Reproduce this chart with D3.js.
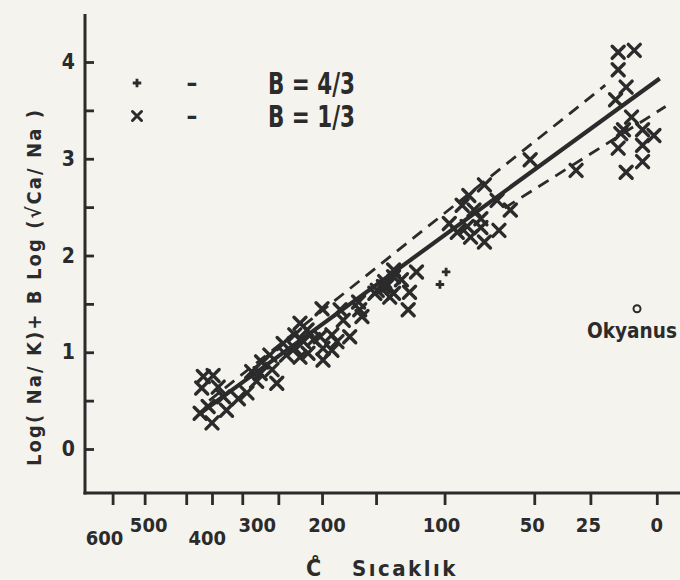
<!DOCTYPE html>
<html>
<head>
<meta charset="utf-8">
<script src="https://cdn.jsdelivr.net/npm/d3@7"></script>
<style>
  body { margin: 0; background: #f4f3ee; }
  svg { display: block; }
  text { font-family: "DejaVu Sans Condensed", "DejaVu Sans", sans-serif; font-weight: bold; fill: #2b2b2b; }
</style>
</head>
<body>
<div id="viz"></div>
<script>
// temperature ticks (°C) on a 1/T axis
var xTicks = [600, 500, 400, 350, 300, 250, 200, 150, 100, 50, 25, 0];
var xLabels = [600, 500, 400, 300, 200, 100, 50, 25, 0];
var yTicks = [0, 0.5, 1, 1.5, 2, 2.5, 3, 3.5, 4];
var yLabels = [0, 1, 2, 3, 4];

// points: [temperature °C, log value]
var crossPoints = [
  [366,0.75],[348,0.76],[369,0.63],[339,0.64],[330,0.54],[372,0.37],[350,0.27],[357,0.44],
  [325,0.40],[306,0.52],[293,0.58],[286,0.80],[274,0.78],[272,0.90],[261,0.97],[279,0.70],
  [252,0.68],[258,0.82],[244,1.09],[240,0.97],[230,1.04],[224,1.30],[230,1.18],[216,1.23],
  [220,1.11],[224,0.95],[215,0.99],[209,1.13],[202,1.16],[199,0.92],[199,1.04],[190,1.18],
  [190,1.02],[185,1.11],[200,1.45],[182,1.44],[179,1.33],[173,1.16],[164,1.44],[162,1.37],
  [165,1.52],[149,1.64],[141,1.69],[139,1.57],[136,1.78],
  [52,2.99],[76,2.73],[85,2.62],[89,2.52],[82,2.47],[97,2.33],[92,2.24],[86,2.30],
  [84,2.19],[78,2.38],[78,2.29],[69,2.57],[68,2.26],[76,2.14],[62,2.47],[31,2.88],
  [136,1.85],[143,1.73],[130,1.75],[119,1.83],[151,1.61],[136,1.61],[124,1.62],[125,1.44],[144,1.68],
  [14,4.10],[8,4.12],[14,3.92],[11,3.74],[15,3.61],[9,3.43],[12,3.30],[5,3.30],
  [1,3.24],[13,3.26],[5,3.14],[14,3.11],[5,2.97],[11,2.86]
];
var plusPoints = [[99,1.83],[103,1.70]];
var oceanPoint = [7, 1.45];

// fitted line and the two dashed bounds: [temperature °C, log value]
var solidLine = [[372,0.37],[-1,3.83]];
var upperDashed = [[355,0.50],[19,3.76]];
var lowerDashed = [[65,2.49],[-3,3.54]];

var legendRows = [
  {mark: "plus", text: "B = 4/3"},
  {mark: "cross", text: "B = 1/3"}
];

var width = 680, height = 580;
var ink = "#2b2b2b";

var svg = d3.select("#viz")
  .append("svg")
    .attr("width", width)
    .attr("height", height);

// x is linear in 1000/T(K)
var invK = function(t) { return 1000 / (t + 273.15); };
var x = d3.scaleLinear().domain([invK(600), invK(0)]).range([112.6, 656.8]);
var y = d3.scaleLinear().domain([0, 4]).range([449, 62]);
function px(t) { return x(invK(t)); }

// axis lines
svg.append("line")
  .attr("x1", 85).attr("x2", 85).attr("y1", 14).attr("y2", 494.5)
  .style("stroke", ink).style("stroke-width", 3);
svg.append("line")
  .attr("x1", 83.5).attr("x2", 680).attr("y1", 493).attr("y2", 493)
  .style("stroke", ink).style("stroke-width", 3);

// x ticks
var xAxis = d3.axisBottom(x)
  .tickValues(xTicks.map(invK))
  .tickSize(12)
  .tickSizeOuter(0)
  .tickFormat("");
var gx = svg.append("g").attr("transform", "translate(0,493)").call(xAxis);
gx.select(".domain").remove();
gx.selectAll(".tick line").style("stroke", ink).style("stroke-width", 2.8);

// x tick labels, hand placed like the original lettering
var labelShift = {600: [-8, 13], 500: [4, 0], 400: [21, 13], 300: [15, 0], 200: [5, 0], 100: [-3, 0], 50: [-2, 0], 25: [-2, 0], 0: [0, 0]};
svg.selectAll(".xlab")
  .data(xLabels)
  .enter()
  .append("text")
    .attr("class", "xlab")
    .attr("x", function(d) { return px(d) + labelShift[d][0]; })
    .attr("y", function(d) { return 532 + labelShift[d][1]; })
    .attr("text-anchor", "middle")
    .style("font-size", "20px")
    .text(function(d) { return d; });

// y axis ticks pointing inward
var yAxis = d3.axisLeft(y)
  .tickValues(yTicks)
  .tickSize(-9)
  .tickPadding(10)
  .tickFormat(function(d) { return yLabels.indexOf(d) >= 0 ? d : ""; });
var gy = svg.append("g").attr("transform", "translate(85,0)").call(yAxis);
gy.select(".domain").remove();
gy.selectAll(".tick line").style("stroke", ink).style("stroke-width", 2.8);
gy.selectAll(".tick text")
  .attr("fill", ink)
  .style("font-size", "21px")
  .style("font-weight", "bold")
  .style("font-family", "'DejaVu Sans Condensed', 'DejaVu Sans', sans-serif");

// axis titles
svg.append("text")
  .attr("transform", "translate(41,288) rotate(-90)")
  .attr("text-anchor", "middle")
  .attr("textLength", 356)
  .attr("lengthAdjust", "spacing")
  .style("font-size", "20px")
  .text("Log( Na/ K)+ B Log (√Ca/ Na )");

svg.append("text")
  .attr("x", 306).attr("y", 576)
  .style("font-size", "23px")
  .text("C\u030A");
svg.append("text")
  .attr("x", 352).attr("y", 576)
  .style("font-size", "22px")
  .style("letter-spacing", "2.5px")
  .text("Sıcaklık");

// lines
var line = d3.line()
  .x(function(d) { return px(d[0]); })
  .y(function(d) { return y(d[1]); });

svg.append("path").datum(upperDashed).attr("d", line)
  .style("fill", "none").style("stroke", ink).style("stroke-width", 2.8).style("stroke-dasharray", "12,8");
svg.append("path").datum(lowerDashed).attr("d", line)
  .style("fill", "none").style("stroke", ink).style("stroke-width", 2.8).style("stroke-dasharray", "12,8");
svg.append("path").datum(solidLine).attr("d", line)
  .style("fill", "none").style("stroke", ink).style("stroke-width", 4.2);

// markers
var crossPath = "M-6,-6L6,6M-6,6L6,-6";
var smallCross = "M-4.5,-4.5L4.5,4.5M-4.5,4.5L4.5,-4.5";
var plusSymbol = d3.symbol().type(d3.symbolCross).size(40);

svg.append("g")
  .selectAll("path")
  .data(crossPoints)
  .enter()
  .append("path")
    .attr("d", crossPath)
    .attr("transform", function(d) { return "translate(" + px(d[0]) + "," + y(d[1]) + ")"; })
    .style("stroke", ink)
    .style("stroke-width", 3.4)
    .style("stroke-linecap", "round")
    .style("fill", "none");

svg.append("g")
  .selectAll("path")
  .data(plusPoints)
  .enter()
  .append("path")
    .attr("d", plusSymbol)
    .attr("transform", function(d) { return "translate(" + px(d[0]) + "," + y(d[1]) + ")"; })
    .style("fill", ink);

// ocean water
svg.append("circle")
  .attr("cx", px(oceanPoint[0]))
  .attr("cy", y(oceanPoint[1]))
  .attr("r", 3.5)
  .style("fill", "none")
  .style("stroke", ink)
  .style("stroke-width", 2);
svg.append("text")
  .attr("x", 587).attr("y", 338)
  .attr("textLength", 90)
  .attr("lengthAdjust", "spacingAndGlyphs")
  .style("font-size", "21px")
  .text("Okyanus");

// legend
var legend = svg.selectAll(".legend")
  .data(legendRows)
  .enter()
  .append("g")
    .attr("class", "legend")
    .attr("transform", function(d, i) { return "translate(0," + (83 + i * 33) + ")"; });

legend.append("path")
  .attr("transform", "translate(137,0)")
  .attr("d", function(d) { return d.mark === "plus" ? plusSymbol() : smallCross; })
  .style("fill", function(d) { return d.mark === "plus" ? ink : "none"; })
  .style("stroke", function(d) { return d.mark === "plus" ? "none" : ink; })
  .style("stroke-width", 3)
  .style("stroke-linecap", "round");

legend.append("text")
  .attr("x", 192).attr("y", 8)
  .attr("text-anchor", "middle")
  .style("font-size", "24px")
  .text("–");

legend.append("text")
  .attr("x", 268).attr("y", 11)
  .attr("textLength", 87)
  .attr("lengthAdjust", "spacingAndGlyphs")
  .style("font-size", "30px")
  .text(function(d) { return d.text; });
</script>
</body>
</html>
